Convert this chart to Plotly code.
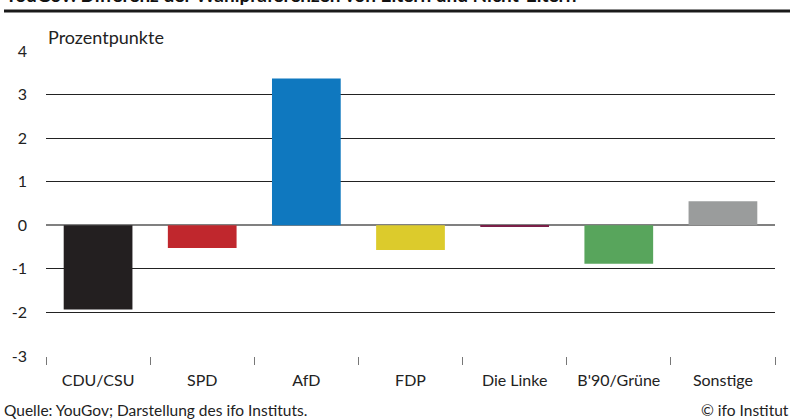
import plotly.graph_objects as go

parties = ["CDU/CSU", "SPD", "AfD", "FDP", "Die Linke", "B'90/Grüne", "Sonstige"]
values = [-1.93, -0.52, 3.37, -0.57, -0.02, -0.88, 0.55]
colors = ["#231f20", "#c0272d", "#0f78bf", "#dccb2c", "#7a1f48", "#58a55c", "#9a9c9c"]
y_ticks = [-3, -2, -1, 0, 1, 2, 3, 4]

title = "YouGov: Differenz der Wahlpräferenzen von Eltern und Nicht-Eltern"
unit = "Prozentpunkte"
source = "Quelle: YouGov; Darstellung des ifo Instituts."
copyright_txt = "© ifo Institut"

FONT = "Lato, 'Noto Sans', sans-serif"
TXT = "#222222"

fig = go.Figure(go.Bar(x=parties, y=values, marker=dict(color=colors, line=dict(width=0)),
                       width=0.66, hoverinfo="x+y"))

fig.update_layout(
    width=793, height=419,
    margin=dict(l=46, r=18, t=51, b=63),
    paper_bgcolor="white", plot_bgcolor="white",
    font=dict(family=FONT, size=15, color=TXT),
    showlegend=False,
)
fig.update_xaxes(
    type="category", showgrid=False, zeroline=False,
    ticks="outside", tickson="boundaries", ticklen=8, tickwidth=1.2, tickcolor="#777777",
    showline=False, tickfont=dict(size=16, color=TXT), ticklabelstandoff=13,
)
fig.update_yaxes(
    range=[-3, 4], tickvals=y_ticks, ticktext=[str(v) for v in y_ticks],
    showgrid=True, gridcolor="#222222", gridwidth=1.3,
    zeroline=True, zerolinecolor="#808080", zerolinewidth=2,
    showline=False, ticks="", tickfont=dict(size=16, color=TXT), ticklabelstandoff=18,
)

fig.add_annotation(text=title, xref="paper", yref="paper", x=0, xshift=-44,
                   y=1, yshift=43, xanchor="left", yanchor="bottom", showarrow=False,
                   font=dict(size=19, color="#111111", family=FONT, weight="bold"))
fig.add_shape(type="line", xref="paper", yref="paper",
              x0=-42 / 729, x1=(790 - 46) / 729, y0=40, y1=40,
              ysizemode="pixel", yanchor=1,
              line=dict(color="#1a1a1a", width=3))
fig.add_annotation(text=unit, xref="paper", yref="paper", x=0, y=1, yshift=14,
                   xanchor="left", yanchor="middle", showarrow=False,
                   font=dict(size=18, color=TXT))
fig.add_annotation(text=source, xref="paper", yref="paper", x=0, xshift=-44, y=0, yshift=-54,
                   xanchor="left", yanchor="middle", showarrow=False,
                   font=dict(size=15.5, color=TXT))
fig.add_annotation(text=copyright_txt, xref="paper", yref="paper", x=1, xshift=16, y=0, yshift=-54,
                   xanchor="right", yanchor="middle", showarrow=False,
                   font=dict(size=15.5, color=TXT))

fig.write_html("out.html", config={"displayModeBar": False},
               post_script="document.body.style.margin='0';")
